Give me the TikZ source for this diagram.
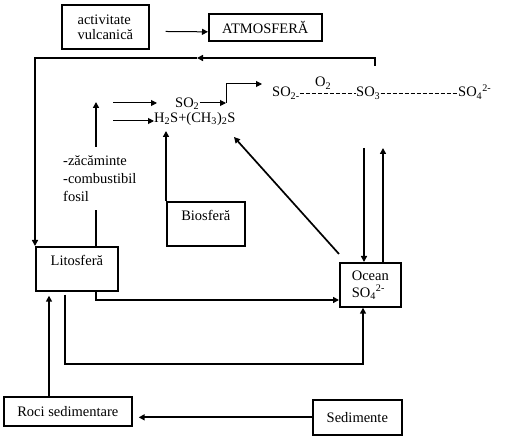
\documentclass[tikz,border=0pt]{standalone}
\usepackage{fontspec}
\setmainfont{Liberation Serif}
\usetikzlibrary{arrows.meta,positioning,calc}
\tikzset{
  txt/.style={font=\fontsize{14.5}{17}\selectfont,inner sep=0pt},
  caseta/.style={draw,line width=1.7pt,font=\fontsize{14.5}{17}\selectfont,
    align=left,inner sep=0pt,anchor=north west},
  sus/.style={text depth=16pt},
  gros/.style={line width=1.7pt},
  subtire/.style={line width=1pt},
  sageata/.style={-{Triangle[length=6pt,width=6pt]}},
  puncte/.style={line width=0.8pt,dash pattern=on 4pt off 2pt}
}
\begin{document}
\begin{tikzpicture}[x=1pt,y=-1pt]
  \useasboundingbox (0,0) rectangle (507,438);
  % casete
  \node[caseta,minimum width=87,minimum height=44,
        font=\fontsize{14.5}{15}\selectfont] (vulc) at (61,4) {activitate\\vulcanică};
  \node[caseta,minimum width=113,minimum height=27] (atm) at (208,13) {ATMOSFERĂ};
  \node[caseta,sus,minimum width=82,minimum height=44] (lito) at (35,246) {Litosferă};
  \node[caseta,sus,minimum width=78,minimum height=44] (bio) at (166,201) {Biosferă};
  \node[caseta,minimum width=61,minimum height=44] (ocean) at (339,262)
    {Ocean\\SO\textsubscript{4}\textsuperscript{2-}};
  \node[caseta,minimum width=128,minimum height=29] (roci) at (3,396) {Roci sedimentare};
  \node[caseta,minimum width=89,minimum height=35] (sed) at (312,399) {Sedimente};
  % texte
  \node[txt,anchor=west] (so2a) at (175,104) {SO\textsubscript{2}};
  \node[txt,anchor=west] (h2s) at (154,119)
    {H\textsubscript{2}S+(CH\textsubscript{3})\textsubscript{2}S};
  \node[txt,anchor=base west] (o2) at (315,87) {O\textsubscript{2}};
  \node[txt,anchor=base west] (so2b) at (272,97) {SO\textsubscript{2-}};
  \node[txt,anchor=base west] (so3) at (356,97) {SO\textsubscript{3}};
  \node[txt,anchor=base west] (so4) at (458,97) {SO\textsubscript{4}\textsuperscript{2-}};
  \node[txt,align=left,font=\fontsize{14.5}{18}\selectfont,anchor=north west] (zac)
    at (63,155) {-zăcăminte\\-combustibil\\fosil};
  % puncte de capat
  \coordinate (srcA) at (113,103);
  \coordinate (srcB) at (113,121);
  \coordinate (cot) at (226,103);
  \coordinate (cotB) at (262,84);
  \coordinate (loopR) at (375,66);
  \coordinate (loopM) at (197,58);
  \coordinate (zacJos) at (96,210);
  \coordinate (zacSus) at (96,147);
  \coordinate (zacVarf) at (96,102);
  \coordinate (diagVarf) at (234,137);
  \coordinate (ocA) at (364,148);
  \coordinate (ocB) at (383,148);
  \coordinate (lx) at (96,300);
  \coordinate (ly) at (65,364);
  \coordinate (lz) at (363,364);
  \coordinate (rx) at (49,0);
  % legaturi
  \draw[subtire,sageata,shorten <=16pt] ([yshift=-4.5pt]vulc.east) -- ([yshift=-4.5pt]atm.west);
  \draw[gros,sageata] (loopR) |- (loopM);
  \draw[gros,sageata] (loopM) -| (lito.north west);
  \draw[subtire,sageata,shorten >=18pt] (srcA) -- (so2a.west |- srcA);
  \draw[subtire,sageata] (srcB) -- (h2s.west |- srcB);
  \draw[subtire,sageata] (so2a.east |- cot) -- (cot);
  \draw[subtire,sageata] (cot) |- (cotB);
  \draw[puncte] ($(so2b.base east)+(0,-4)$) -- ($(so3.base west)+(0,-4)$);
  \draw[puncte] ($(so3.base east)+(0,-4)$) -- ($(so4.base west)+(0,-4)$);
  \draw[gros] (lito.north -| zacJos) -- (zacJos);
  \draw[gros,sageata] (zacSus) -- (zacVarf);
  \draw[gros,sageata] (bio.north west) -- ++(0,-70);
  \draw[gros,sageata] ([yshift=8pt]ocean.north west) -- (diagVarf);
  \draw[gros,sageata] (ocA) -- (ocA |- ocean.north);
  \draw[gros,sageata] (ocB |- ocean.north) -- (ocB);
  \draw[gros,sageata] (lito.south -| lx) |- (ocean.west |- lx);
  \draw[gros,sageata] ([yshift=-3pt]lito.south -| ly) -- (ly) -- (lz) -- (lz |- ocean.south);
  \draw[gros,sageata,shorten >=4pt] (roci.north -| rx) -- (lito.south -| rx);
  \draw[gros,sageata,shorten >=6pt] (sed.west) -- (roci.east |- sed.west);
\end{tikzpicture}
\end{document}
